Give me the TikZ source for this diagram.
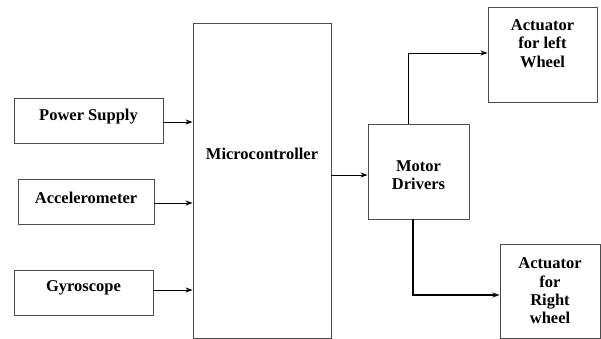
\documentclass[tikz,border=0pt]{standalone}
\usepackage{fontspec}
\setmainfont{Liberation Serif}
\usetikzlibrary{arrows.meta}

\begin{document}
\begin{tikzpicture}
[
	x=1pt,y=-1pt,
	block/.style={rectangle,draw=black!70,line width=0.9pt,inner sep=0pt},
	txt/.style={font=\fontsize{16.5}{18.3}\selectfont\bfseries,align=center},
	link/.style={-{Stealth[length=7pt,width=5pt]},line width=0.9pt}
]

	\useasboundingbox (0,0) rectangle (601,339);

	% inputs
	\node[block,minimum width=149pt,minimum height=45pt,label={[txt,yshift=4pt]center:Power Supply}] (power) at (88.5,120.5) {};
	\node[block,minimum width=136pt,minimum height=45pt,label={[txt,yshift=4pt]center:Accelerometer}] (accel) at (86,201.5) {};
	\node[block,minimum width=139pt,minimum height=45pt,label={[txt,yshift=5pt]center:Gyroscope}] (gyro) at (83.5,292.5) {};

	% controller
	\node[block,minimum width=138pt,minimum height=315pt,label={[txt,yshift=27pt]center:Microcontroller}] (mcu) at (262,180.5) {};

	% drivers and actuators
	\node[block,minimum width=101pt,minimum height=95pt,label={[txt,yshift=-4pt]center:Motor\\Drivers}] (motor) at (418.5,171.5) {};
	\node[block,minimum width=109pt,minimum height=95pt,label={[txt,yshift=11pt]center:Actuator\\for left\\Wheel}] (actl) at (542.5,54.5) {};
	\node[block,minimum width=100pt,minimum height=94pt,label={[txt]center:Actuator\\for\\Right\\wheel}] (actr) at (550,291) {};

	% arrows
	\draw[link] ([yshift=-1.5pt]power.east) -- ([yshift=-1.5pt]power.east -| mcu.west);
	\draw[link] ([yshift=-1.5pt]accel.east) -- ([yshift=-1.5pt]accel.east -| mcu.west);
	\draw[link] ([yshift=2.5pt]gyro.east) -- ([yshift=2.5pt]gyro.east -| mcu.west);
	\draw[link] ([yshift=-3.5pt]mcu.east |- motor.west) -- ([yshift=-3.5pt]motor.west);
	\draw[link] ([xshift=-10.5pt]motor.north) |- ([yshift=1.5pt]actl.west);
	\draw[link,line width=1.8pt] ([xshift=-5.5pt]motor.south) |- ([yshift=-4pt]actr.west);

\end{tikzpicture}
\end{document}
